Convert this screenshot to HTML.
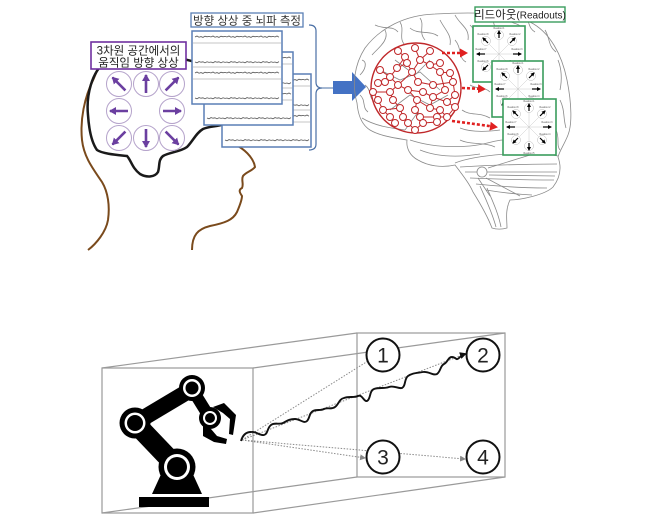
<!DOCTYPE html>
<html>
<head>
<meta charset="utf-8">
<style>
  html,body{margin:0;padding:0;background:#fff;}
  body{width:650px;height:529px;overflow:hidden;}
  svg{display:block;}
  .kr{font-family:"Liberation Sans","Noto Sans CJK KR",sans-serif;}
</style>
</head>
<body>
<svg width="650" height="529" viewBox="0 0 650 529" xmlns="http://www.w3.org/2000/svg">
  <defs>
    <marker id="ap" markerWidth="8" markerHeight="8" refX="6" refY="4" orient="auto" markerUnits="userSpaceOnUse">
      <path d="M0,0 L7,4 L0,8 z" fill="#6b3fa0"/>
    </marker>
    <marker id="ab" markerWidth="4" markerHeight="4" refX="3" refY="2" orient="auto" markerUnits="userSpaceOnUse">
      <path d="M0,0 L4,2 L0,4 z" fill="#000"/>
    </marker>
    <marker id="ar" markerWidth="9" markerHeight="9" refX="6" refY="4.5" orient="auto" markerUnits="userSpaceOnUse">
      <path d="M0,0 L8,4.5 L0,9 z" fill="#e02020"/>
    </marker>
    <marker id="ag" markerWidth="6" markerHeight="6" refX="5" refY="3" orient="auto" markerUnits="userSpaceOnUse">
      <path d="M0,0 L6,3 L0,6 z" fill="#888"/>
    </marker>
    <marker id="ak" markerWidth="7" markerHeight="7" refX="5" refY="3.5" orient="auto" markerUnits="userSpaceOnUse">
      <path d="M0,0 L7,3.5 L0,7 z" fill="#111"/>
    </marker>
  </defs>

  <!-- ================= HEAD ================= -->
  <path d="M 88 250 C 96 244, 106 232, 108 220 C 110 206, 108 192, 102 182 C 94 170, 84 158, 82 140 C 80 120, 84 98, 94 78 L 99 66" fill="none" stroke="#7a4a1c" stroke-width="2"/>
  <path d="M 238 146 C 248 152, 254 160, 255 167 C 252 171, 246 172, 243 176 C 241 180, 244 184, 242 188 C 238 190, 240 193, 242 196 C 242 200, 240 205, 237 212 C 233 220, 225 223, 210 226 C 198 229, 192 235, 192 250" fill="none" stroke="#7a4a1c" stroke-width="2"/>
  <path d="M 205 66 C 185 56, 140 52, 105 62 C 92 72, 86 95, 88 115 C 89 130, 92 143, 97 150 C 103 154, 118 155, 127 156 C 131 160, 132 168, 140 174 C 147 178, 155 177, 158 172 C 160 166, 158 160, 163 156 C 170 152, 180 152, 187 147 C 193 141, 196 133, 203 129 C 210 126, 216 127, 225 124" fill="none" stroke="#1a1a1a" stroke-width="2.5"/>

  <!-- purple direction circles -->
  <g fill="#fff" stroke="#b5a3cb" stroke-width="1">
    <circle cx="119" cy="84" r="12.5"/><circle cx="146" cy="84" r="12.5"/><circle cx="172" cy="84" r="12.5"/>
    <circle cx="119" cy="111" r="12.5"/><circle cx="172" cy="111" r="12.5"/>
    <circle cx="119" cy="138" r="12.5"/><circle cx="146" cy="138" r="12.5"/><circle cx="172" cy="138" r="12.5"/>
  </g>
  <g stroke="#6b3fa0" stroke-width="2.6" marker-end="url(#ap)">
    <line x1="125.4" y1="90.4" x2="112.5" y2="77.5"/>
    <line x1="146" y1="93" x2="146" y2="75"/>
    <line x1="165.6" y1="90.4" x2="178.5" y2="77.5"/>
    <line x1="128" y1="111" x2="110" y2="111"/>
    <line x1="163" y1="111" x2="181" y2="111"/>
    <line x1="125.4" y1="131.6" x2="112.5" y2="144.5"/>
    <line x1="146" y1="129" x2="146" y2="147"/>
    <line x1="165.6" y1="131.6" x2="178.5" y2="144.5"/>
  </g>

  <!-- purple label -->
  <rect x="91" y="42" width="95" height="27" fill="#fff" stroke="#7030a0" stroke-width="1.6"/>
  <text x="138.5" y="54.5" class="kr" font-size="11.5" fill="#222" text-anchor="middle">3차원 공간에서의</text>
  <text x="138.5" y="66.5" class="kr" font-size="11.5" fill="#222" text-anchor="middle">움직임 방향 상상</text>

  <!-- EEG boxes -->
  <g transform="translate(222,74)">
    <rect x="0" y="0" width="89" height="73" fill="#fff" stroke="#5a7fb5" stroke-width="1.5"/>
    <g stroke="#c4c4c4" stroke-width="1"><line x1="1" y1="12" x2="88" y2="12"/><line x1="1" y1="36" x2="88" y2="36"/><line x1="1" y1="48" x2="88" y2="48"/></g>
    <g fill="none" stroke="#555" stroke-width="0.8">
      <path d="M3,6 l2,-1 l2,1.2 l2,-0.6 l2,0.8 l2,-1.2 l2,0.6 l2,-0.4 l2,0.6 l2,-1 l2,1.2 l2,-0.6 l2,0.8 l2,-1.2 l2,0.6 l2,-0.4 l2,0.6 l2,-1 l2,1.2 l2,-0.6 l2,0.8 l2,-1.2 l2,0.6 l2,-0.4 l2,0.6 l2,-1 l2,1.2 l2,-0.6 l2,0.8 l2,-1.2 l2,0.6 l2,-0.4 l2,0.6 l2,-1 l2,1.2 l2,-0.6 l2,0.8 l2,-1.2 l2,0.6 l2,-0.4 l2,0.6 l2,-1 l2,1.2"/>
      <path d="M3,31 l2,0.8 l2,-1.2 l2,0.6 l2,-0.4 l2,1 l2,-1 l2,0.6 l2,-0.4 l2,0.8 l2,-1.2 l2,0.6 l2,-0.4 l2,1 l2,-1 l2,0.6 l2,-0.4 l2,0.8 l2,-1.2 l2,0.6 l2,-0.4 l2,1 l2,-1 l2,0.6 l2,-0.4 l2,0.8 l2,-1.2 l2,0.6 l2,-0.4 l2,1 l2,-1 l2,0.6 l2,-0.4 l2,0.8 l2,-1.2 l2,0.6 l2,-0.4 l2,1 l2,-1 l2,0.6 l2,-0.4 l2,0.8 l2,-1.2"/>
      <path d="M3,42 l2,-1 l2,1.2 l2,-0.6 l2,0.8 l2,-1.2 l2,0.6 l2,-0.4 l2,0.6 l2,-1 l2,1.2 l2,-0.6 l2,0.8 l2,-1.2 l2,0.6 l2,-0.4 l2,0.6 l2,-1 l2,1.2 l2,-0.6 l2,0.8 l2,-1.2 l2,0.6 l2,-0.4 l2,0.6 l2,-1 l2,1.2 l2,-0.6 l2,0.8 l2,-1.2 l2,0.6 l2,-0.4 l2,0.6 l2,-1 l2,1.2 l2,-0.6 l2,0.8 l2,-1.2 l2,0.6 l2,-0.4 l2,0.6 l2,-1 l2,1.2"/>
      <path d="M3,66 l2,0.8 l2,-1.2 l2,0.6 l2,-0.4 l2,1 l2,-1 l2,0.6 l2,-0.4 l2,0.8 l2,-1.2 l2,0.6 l2,-0.4 l2,1 l2,-1 l2,0.6 l2,-0.4 l2,0.8 l2,-1.2 l2,0.6 l2,-0.4 l2,1 l2,-1 l2,0.6 l2,-0.4 l2,0.8 l2,-1.2 l2,0.6 l2,-0.4 l2,1 l2,-1 l2,0.6 l2,-0.4 l2,0.8 l2,-1.2 l2,0.6 l2,-0.4 l2,1 l2,-1 l2,0.6 l2,-0.4 l2,0.8 l2,-1.2"/>
    </g>
  </g>
  <g transform="translate(204,52)">
    <rect x="0" y="0" width="89" height="73" fill="#fff" stroke="#5a7fb5" stroke-width="1.5"/>
    <g stroke="#c4c4c4" stroke-width="1"><line x1="1" y1="12" x2="88" y2="12"/><line x1="1" y1="36" x2="88" y2="36"/><line x1="1" y1="48" x2="88" y2="48"/></g>
    <g fill="none" stroke="#555" stroke-width="0.8">
      <path d="M3,6 l2,-1 l2,1.2 l2,-0.6 l2,0.8 l2,-1.2 l2,0.6 l2,-0.4 l2,0.6 l2,-1 l2,1.2 l2,-0.6 l2,0.8 l2,-1.2 l2,0.6 l2,-0.4 l2,0.6 l2,-1 l2,1.2 l2,-0.6 l2,0.8 l2,-1.2 l2,0.6 l2,-0.4 l2,0.6 l2,-1 l2,1.2 l2,-0.6 l2,0.8 l2,-1.2 l2,0.6 l2,-0.4 l2,0.6 l2,-1 l2,1.2 l2,-0.6 l2,0.8 l2,-1.2 l2,0.6 l2,-0.4 l2,0.6 l2,-1 l2,1.2"/>
      <path d="M3,31 l2,0.8 l2,-1.2 l2,0.6 l2,-0.4 l2,1 l2,-1 l2,0.6 l2,-0.4 l2,0.8 l2,-1.2 l2,0.6 l2,-0.4 l2,1 l2,-1 l2,0.6 l2,-0.4 l2,0.8 l2,-1.2 l2,0.6 l2,-0.4 l2,1 l2,-1 l2,0.6 l2,-0.4 l2,0.8 l2,-1.2 l2,0.6 l2,-0.4 l2,1 l2,-1 l2,0.6 l2,-0.4 l2,0.8 l2,-1.2 l2,0.6 l2,-0.4 l2,1 l2,-1 l2,0.6 l2,-0.4 l2,0.8 l2,-1.2"/>
      <path d="M3,42 l2,-1 l2,1.2 l2,-0.6 l2,0.8 l2,-1.2 l2,0.6 l2,-0.4 l2,0.6 l2,-1 l2,1.2 l2,-0.6 l2,0.8 l2,-1.2 l2,0.6 l2,-0.4 l2,0.6 l2,-1 l2,1.2 l2,-0.6 l2,0.8 l2,-1.2 l2,0.6 l2,-0.4 l2,0.6 l2,-1 l2,1.2 l2,-0.6 l2,0.8 l2,-1.2 l2,0.6 l2,-0.4 l2,0.6 l2,-1 l2,1.2 l2,-0.6 l2,0.8 l2,-1.2 l2,0.6 l2,-0.4 l2,0.6 l2,-1 l2,1.2"/>
      <path d="M3,66 l2,0.8 l2,-1.2 l2,0.6 l2,-0.4 l2,1 l2,-1 l2,0.6 l2,-0.4 l2,0.8 l2,-1.2 l2,0.6 l2,-0.4 l2,1 l2,-1 l2,0.6 l2,-0.4 l2,0.8 l2,-1.2 l2,0.6 l2,-0.4 l2,1 l2,-1 l2,0.6 l2,-0.4 l2,0.8 l2,-1.2 l2,0.6 l2,-0.4 l2,1 l2,-1 l2,0.6 l2,-0.4 l2,0.8 l2,-1.2 l2,0.6 l2,-0.4 l2,1 l2,-1 l2,0.6 l2,-0.4 l2,0.8 l2,-1.2"/>
    </g>
  </g>
  <g transform="translate(192,31)">
    <rect x="0" y="0" width="90" height="73" fill="#fff" stroke="#5a7fb5" stroke-width="1.5"/>
    <g stroke="#c4c4c4" stroke-width="1"><line x1="1" y1="12" x2="89" y2="12"/><line x1="1" y1="36" x2="89" y2="36"/><line x1="1" y1="48" x2="89" y2="48"/></g>
    <g fill="none" stroke="#555" stroke-width="0.8">
      <path d="M3,6 l2,-1 l2,1.2 l2,-0.6 l2,0.8 l2,-1.2 l2,0.6 l2,-0.4 l2,0.6 l2,-1 l2,1.2 l2,-0.6 l2,0.8 l2,-1.2 l2,0.6 l2,-0.4 l2,0.6 l2,-1 l2,1.2 l2,-0.6 l2,0.8 l2,-1.2 l2,0.6 l2,-0.4 l2,0.6 l2,-1 l2,1.2 l2,-0.6 l2,0.8 l2,-1.2 l2,0.6 l2,-0.4 l2,0.6 l2,-1 l2,1.2 l2,-0.6 l2,0.8 l2,-1.2 l2,0.6 l2,-0.4 l2,0.6 l2,-1 l2,1.2"/>
      <path d="M3,31 l2,0.8 l2,-1.2 l2,0.6 l2,-0.4 l2,1 l2,-1 l2,0.6 l2,-0.4 l2,0.8 l2,-1.2 l2,0.6 l2,-0.4 l2,1 l2,-1 l2,0.6 l2,-0.4 l2,0.8 l2,-1.2 l2,0.6 l2,-0.4 l2,1 l2,-1 l2,0.6 l2,-0.4 l2,0.8 l2,-1.2 l2,0.6 l2,-0.4 l2,1 l2,-1 l2,0.6 l2,-0.4 l2,0.8 l2,-1.2 l2,0.6 l2,-0.4 l2,1 l2,-1 l2,0.6 l2,-0.4 l2,0.8 l2,-1.2"/>
      <path d="M3,42 l2,-1 l2,1.2 l2,-0.6 l2,0.8 l2,-1.2 l2,0.6 l2,-0.4 l2,0.6 l2,-1 l2,1.2 l2,-0.6 l2,0.8 l2,-1.2 l2,0.6 l2,-0.4 l2,0.6 l2,-1 l2,1.2 l2,-0.6 l2,0.8 l2,-1.2 l2,0.6 l2,-0.4 l2,0.6 l2,-1 l2,1.2 l2,-0.6 l2,0.8 l2,-1.2 l2,0.6 l2,-0.4 l2,0.6 l2,-1 l2,1.2 l2,-0.6 l2,0.8 l2,-1.2 l2,0.6 l2,-0.4 l2,0.6 l2,-1 l2,1.2"/>
      <path d="M3,67 l2,0.8 l2,-1.2 l2,0.6 l2,-0.4 l2,1 l2,-1 l2,0.6 l2,-0.4 l2,0.8 l2,-1.2 l2,0.6 l2,-0.4 l2,1 l2,-1 l2,0.6 l2,-0.4 l2,0.8 l2,-1.2 l2,0.6 l2,-0.4 l2,1 l2,-1 l2,0.6 l2,-0.4 l2,0.8 l2,-1.2 l2,0.6 l2,-0.4 l2,1 l2,-1 l2,0.6 l2,-0.4 l2,0.8 l2,-1.2 l2,0.6 l2,-0.4 l2,1 l2,-1 l2,0.6 l2,-0.4 l2,0.8 l2,-1.2"/>
    </g>
  </g>

  <!-- EEG label -->
  <rect x="191" y="13" width="112" height="14" fill="#fff" stroke="#5a7fb5" stroke-width="1.3"/>
  <text x="247" y="24.5" class="kr" font-size="11.5" fill="#333" text-anchor="middle">방향 상상 중 뇌파 측정</text>

  <!-- bracket -->
  <path d="M 309 25 Q 316 25 316 31 L 316 82 Q 316 88 322 88 Q 316 88 316 94 L 316 144 Q 316 150 309 150" fill="none" stroke="#4a6fa5" stroke-width="1.2"/>
  <line x1="322" y1="88" x2="334" y2="88" stroke="#4a6fa5" stroke-width="1"/>

  <!-- big blue arrow -->
  <path d="M 333 81 L 352 81 L 352 72 L 366 87 L 352 101 L 352 94 L 333 94 Z" fill="#4472c4"/>

  <!-- ================= BRAIN ================= -->
  <g fill="none" stroke="#8a8a8a" stroke-width="0.8">
    <path d="M 357 103 C 352 85, 354 65, 365 48 C 380 28, 405 15, 435 14 C 470 12, 510 12, 530 22 C 550 32, 562 55, 567 80 C 572 105, 572 125, 568 135 C 564 145, 560 150, 558 157 C 562 168, 560 178, 553 187 C 545 195, 520 200, 510 200 C 505 210, 507 220, 507 228 C 500 230, 495 229, 492 228 C 487 215, 478 200, 473 192 C 470 185, 465 178, 455 165 C 442 168, 428 166, 418 160 C 410 156, 406 148, 407 140 C 395 138, 380 136, 370 130 C 362 125, 358 115, 357 103 Z"/>
    <path d="M 455 163 C 475 155, 530 150, 558 156"/>
    <path d="M 460 167 Q 510 164 557 164"/>
    <path d="M 465 172 Q 515 172 557 172"/>
    <path d="M 470 178 Q 515 180 554 180"/>
    <path d="M 476 184 Q 515 188 547 188"/>
    <path d="M 486 190 Q 510 194 532 195"/>
    <path d="M 488 168 L 530 155"/>
    <path d="M 489 175 L 555 176"/>
    <path d="M 486 178 L 520 196"/>
    <path d="M 478 178 L 490 196"/>
    <circle cx="482" cy="172" r="5" fill="#fff"/>
    <path d="M 480 186 C 486 200, 492 212, 496 227"/>
    <path d="M 487 188 C 492 200, 498 212, 501 227"/>
    <path d="M 440 20 C 445 30, 452 35, 450 45"/>
    <path d="M 455 15 C 460 25, 470 28, 468 40"/>
    <path d="M 400 22 C 405 30, 398 38, 405 45"/>
    <path d="M 385 30 C 390 40, 378 48, 372 55"/>
    <path d="M 362 60 C 368 62, 365 70, 360 75"/>
    <path d="M 455 40 C 462 48, 458 58, 466 62"/>
    <path d="M 420 18 C 425 25, 418 32, 425 40"/>
    <path d="M 365 85 C 372 90, 368 98, 375 102"/>
    <path d="M 362 118 C 375 126, 390 128, 405 130"/>
    <path d="M 410 140 C 425 145, 445 148, 470 146 C 485 145, 495 140, 503 140"/>
    <path d="M 420 150 C 435 156, 455 158, 480 154"/>
    <path d="M 460 128 C 470 132, 485 132, 500 130"/>
    <path d="M 462 110 C 470 116, 480 112, 490 118"/>
    <path d="M 470 85 C 478 90, 484 86, 490 92"/>
    <path d="M 525 15 C 530 22, 528 28, 535 32"/>
    <path d="M 490 14 C 495 20, 492 26, 498 30"/>
    <path d="M 545 30 C 550 38, 548 46, 556 52"/>
    <path d="M 558 60 C 562 70, 562 80, 560 90"/>
    <path d="M 560 100 C 565 110, 563 118, 566 128"/>
    <path d="M 556 130 C 560 138, 556 145, 560 150"/>
    <path d="M 375 25 C 385 30, 392 25, 398 32"/>
    <path d="M 410 28 C 418 35, 430 30, 438 36"/>
    <path d="M 360 95 C 366 100, 362 108, 368 112"/>
    <path d="M 470 25 C 478 32, 475 40, 482 45"/>
    <path d="M 505 18 C 510 24, 518 22, 522 28"/>
    <path d="M 460 140 C 470 145, 485 142, 495 147"/>
    <path d="M 380 70 L 400 80 L 420 72 L 440 90"/>
    <path d="M 390 110 L 410 95 L 430 105 L 448 95"/>
    <path d="M 395 60 L 415 75 L 430 60"/>
    <path d="M 405 130 L 418 112 L 425 125"/>
  </g>

  <!-- red network -->
  <circle cx="416" cy="88" r="45" fill="none" stroke="#c0282a" stroke-width="1.4"/>
  <g stroke="#c0282a" stroke-width="1" fill="none">
    <path d="M398 51 L405 57 L407 63 L397 68 L390 77 L385 82 L378 83"/>
    <path d="M415 48 L420 60 L430 65 L440 63"/>
    <path d="M430 51 L420 60 L412 72 L418 82 L433 85 L453 82"/>
    <path d="M380 70 L390 77 L398 85 L408 90 L423 92 L433 97 L447 102 L455 107"/>
    <path d="M440 72 L450 73 L453 82 L455 95 L447 102"/>
    <path d="M430 65 L440 72 L445 90 L433 97"/>
    <path d="M373 92 L378 100 L383 110 L390 117 L395 123"/>
    <path d="M390 92 L393 100 L400 108 L403 117 L408 123 L415 130 L423 123 L420 117"/>
    <path d="M398 85 L390 92 L373 92"/>
    <path d="M408 90 L417 100 L415 110 L420 117 L437 117 L447 117 L440 110 L430 108 L433 97"/>
    <path d="M417 100 L430 108"/>
    <path d="M437 117 L437 122 L423 123"/>
    <path d="M407 63 L412 72 L398 85"/>
    <path d="M447 117 L455 107"/>
    <path d="M383 110 L400 108"/>
    <path d="M397 68 L405 57"/>
  </g>
  <g fill="#fff" stroke="#c0282a" stroke-width="1">
    <circle cx="398" cy="51" r="3.5"/><circle cx="415" cy="48" r="3.5"/><circle cx="430" cy="51" r="3.5"/>
    <circle cx="405" cy="57" r="3.5"/><circle cx="407" cy="63" r="3.5"/><circle cx="397" cy="68" r="3.5"/>
    <circle cx="420" cy="60" r="3.5"/><circle cx="430" cy="65" r="3.5"/><circle cx="440" cy="63" r="3.5"/>
    <circle cx="380" cy="70" r="3.5"/><circle cx="390" cy="77" r="3.5"/><circle cx="412" cy="72" r="3.5"/>
    <circle cx="440" cy="72" r="3.5"/><circle cx="450" cy="73" r="3.5"/><circle cx="378" cy="83" r="3.5"/>
    <circle cx="385" cy="82" r="3.5"/><circle cx="398" cy="85" r="3.5"/><circle cx="418" cy="82" r="3.5"/>
    <circle cx="433" cy="85" r="3.5"/><circle cx="453" cy="82" r="3.5"/><circle cx="373" cy="92" r="3.5"/>
    <circle cx="390" cy="92" r="3.5"/><circle cx="408" cy="90" r="3.5"/><circle cx="423" cy="92" r="3.5"/>
    <circle cx="445" cy="90" r="3.5"/><circle cx="455" cy="95" r="3.5"/><circle cx="378" cy="100" r="3.5"/>
    <circle cx="393" cy="100" r="3.5"/><circle cx="417" cy="100" r="3.5"/><circle cx="433" cy="97" r="3.5"/>
    <circle cx="447" cy="102" r="3.5"/><circle cx="383" cy="110" r="3.5"/><circle cx="400" cy="108" r="3.5"/>
    <circle cx="415" cy="110" r="3.5"/><circle cx="430" cy="108" r="3.5"/><circle cx="440" cy="110" r="3.5"/>
    <circle cx="455" cy="107" r="3.5"/><circle cx="390" cy="117" r="3.5"/><circle cx="403" cy="117" r="3.5"/>
    <circle cx="420" cy="117" r="3.5"/><circle cx="437" cy="117" r="3.5"/><circle cx="447" cy="117" r="3.5"/>
    <circle cx="395" cy="123" r="3.5"/><circle cx="408" cy="123" r="3.5"/><circle cx="423" cy="123" r="3.5"/>
    <circle cx="437" cy="122" r="3.5"/><circle cx="415" cy="130" r="3.5"/>
  </g>

  <!-- red dotted arrows -->
  <g stroke="#e02020" stroke-width="2.6" stroke-dasharray="3 2" fill="none" marker-end="url(#ar)">
    <line x1="442" y1="53" x2="466" y2="53"/>
    <line x1="462" y1="88" x2="484" y2="89"/>
    <path d="M 452 121 Q 475 124 496 127"/>
  </g>

  <!-- readout boxes -->
  <g transform="translate(473,26)">
    <rect x="0" y="0" width="52" height="56" fill="#fff" stroke="#3a9d5d" stroke-width="1.6"/>
    <g stroke="#c8c8c8" stroke-width="0.5"><line x1="8" y1="28" x2="44" y2="28"/><line x1="26" y1="10" x2="26" y2="46"/><line x1="13" y1="15" x2="39" y2="41"/><line x1="39" y1="15" x2="13" y2="41"/></g>
    <g fill="#fff" stroke="#bbb" stroke-width="0.5"><circle cx="26" cy="9" r="4.5"/><circle cx="39" cy="15" r="4.5"/><circle cx="39" cy="41" r="4.5"/><circle cx="26" cy="47" r="4.5"/><circle cx="13" cy="41" r="4.5"/><circle cx="13" cy="15" r="4.5"/></g>
    <g stroke="#000" stroke-width="1.2" marker-end="url(#ab)">
      <line x1="26" y1="12" x2="26" y2="5"/><line x1="37" y1="17" x2="42" y2="12"/><line x1="40" y1="28" x2="48" y2="28"/><line x1="37" y1="39" x2="42" y2="44"/>
      <line x1="26" y1="44" x2="26" y2="51"/><line x1="15" y1="39" x2="10" y2="44"/><line x1="12" y1="28" x2="4" y2="28"/><line x1="15" y1="17" x2="10" y2="12"/>
    </g>
    <g font-family="Liberation Sans, sans-serif" font-size="2.4" fill="#555" text-anchor="middle">
      <text x="26" y="3">Readout 1</text><text x="42" y="9">Readout 2</text><text x="44" y="24">Readout 3</text><text x="42" y="36">Readout 4</text>
      <text x="26" y="55">Readout 5</text><text x="10" y="36">Readout 6</text><text x="8" y="24">Readout 7</text><text x="10" y="9">Readout 8</text>
    </g>
  </g>
  <g transform="translate(492,61)">
    <rect x="0" y="0" width="51" height="56" fill="#fff" stroke="#3a9d5d" stroke-width="1.6"/>
    <g stroke="#c8c8c8" stroke-width="0.5"><line x1="8" y1="28" x2="44" y2="28"/><line x1="26" y1="10" x2="26" y2="46"/><line x1="13" y1="15" x2="39" y2="41"/><line x1="39" y1="15" x2="13" y2="41"/></g>
    <g fill="#fff" stroke="#bbb" stroke-width="0.5"><circle cx="26" cy="9" r="4.5"/><circle cx="39" cy="15" r="4.5"/><circle cx="39" cy="41" r="4.5"/><circle cx="26" cy="47" r="4.5"/><circle cx="13" cy="41" r="4.5"/><circle cx="13" cy="15" r="4.5"/></g>
    <g stroke="#000" stroke-width="1.2" marker-end="url(#ab)">
      <line x1="26" y1="12" x2="26" y2="5"/><line x1="37" y1="17" x2="42" y2="12"/><line x1="40" y1="28" x2="48" y2="28"/><line x1="37" y1="39" x2="42" y2="44"/>
      <line x1="26" y1="44" x2="26" y2="51"/><line x1="15" y1="39" x2="10" y2="44"/><line x1="12" y1="28" x2="4" y2="28"/><line x1="15" y1="17" x2="10" y2="12"/>
    </g>
    <g font-family="Liberation Sans, sans-serif" font-size="2.4" fill="#555" text-anchor="middle">
      <text x="26" y="3">Readout 1</text><text x="42" y="9">Readout 2</text><text x="44" y="24">Readout 3</text><text x="42" y="36">Readout 4</text>
      <text x="26" y="55">Readout 5</text><text x="10" y="36">Readout 6</text><text x="8" y="24">Readout 7</text><text x="10" y="9">Readout 8</text>
    </g>
  </g>
  <g transform="translate(503,99)">
    <rect x="0" y="0" width="53" height="56" fill="#fff" stroke="#3a9d5d" stroke-width="1.6"/>
    <g stroke="#c8c8c8" stroke-width="0.5"><line x1="8" y1="28" x2="44" y2="28"/><line x1="26" y1="10" x2="26" y2="46"/><line x1="13" y1="15" x2="39" y2="41"/><line x1="39" y1="15" x2="13" y2="41"/></g>
    <g fill="#fff" stroke="#bbb" stroke-width="0.5"><circle cx="26" cy="9" r="4.5"/><circle cx="39" cy="15" r="4.5"/><circle cx="39" cy="41" r="4.5"/><circle cx="26" cy="47" r="4.5"/><circle cx="13" cy="41" r="4.5"/><circle cx="13" cy="15" r="4.5"/></g>
    <g stroke="#000" stroke-width="1.2" marker-end="url(#ab)">
      <line x1="26" y1="12" x2="26" y2="5"/><line x1="37" y1="17" x2="42" y2="12"/><line x1="40" y1="28" x2="48" y2="28"/><line x1="37" y1="39" x2="42" y2="44"/>
      <line x1="26" y1="44" x2="26" y2="51"/><line x1="15" y1="39" x2="10" y2="44"/><line x1="12" y1="28" x2="4" y2="28"/><line x1="15" y1="17" x2="10" y2="12"/>
    </g>
    <g font-family="Liberation Sans, sans-serif" font-size="2.4" fill="#555" text-anchor="middle">
      <text x="26" y="3">Readout 1</text><text x="42" y="9">Readout 2</text><text x="44" y="24">Readout 3</text><text x="42" y="36">Readout 4</text>
      <text x="26" y="55">Readout 5</text><text x="10" y="36">Readout 6</text><text x="8" y="24">Readout 7</text><text x="10" y="9">Readout 8</text>
    </g>
  </g>

  <!-- readouts label -->
  <rect x="475" y="7" width="90" height="15" fill="#fff" stroke="#3a9d5d" stroke-width="1.4"/>
  <text x="520" y="18.5" class="kr" font-size="10" fill="#222" text-anchor="middle"><tspan font-size="11.5">리드아웃</tspan>(Readouts)</text>

  <!-- ================= BOTTOM: ROBOT + CUBE ================= -->
  <g fill="none" stroke="#9a9a9a" stroke-width="1.2">
    <rect x="357" y="333" width="148" height="144"/>
    <line x1="102" y1="368" x2="357" y2="333"/>
    <line x1="253" y1="368" x2="505" y2="333"/>
    <line x1="102" y1="513" x2="357" y2="477"/>
    <line x1="253" y1="513" x2="505" y2="477"/>
    <rect x="102" y="368" width="151" height="145"/>
  </g>

  <g stroke="#8a8a8a" stroke-width="1" stroke-dasharray="1.5 1.5" fill="none">
    <line x1="242" y1="440" x2="368" y2="361"/>
    <line x1="242" y1="440" x2="465" y2="354" marker-end="url(#ag)"/>
    <line x1="242" y1="440" x2="365" y2="458" marker-end="url(#ag)"/>
    <line x1="242" y1="440" x2="465" y2="459" marker-end="url(#ag)"/>
  </g>

  <path d="M 241 441 C 243 434, 247 432, 251 432 C 256 431, 260 436, 264 435 C 268 434, 267 428, 271 425 C 275 422, 279 425, 283 423 C 287 421, 289 419, 295 419 C 300 419, 304 424, 307 421 C 310 418, 309 413, 313 411 C 317 409, 320 411, 324 409 C 328 407, 331 410, 335 407 C 339 404, 339 399, 344 398 C 349 396, 354 398, 358 396 C 362 394, 364 402, 367 401 C 371 399, 369 391, 374 389 C 379 387, 384 389, 389 387 C 394 385, 398 389, 402 388 C 406 386, 404 379, 408 376 C 412 373, 417 373, 423 372 C 429 371, 433 376, 437 374 C 441 371, 440 366, 444 364 C 448 362, 448 357, 452 357 C 456 357, 456 361, 459 358 C 461 356, 462 355, 465 354" fill="none" stroke="#111" stroke-width="1.9" marker-end="url(#ak)"/>

  <g fill="#fff" stroke="#111" stroke-width="2">
    <circle cx="383" cy="355" r="16.5"/><circle cx="483" cy="355" r="16.5"/>
    <circle cx="383" cy="457" r="16.5"/><circle cx="483" cy="457" r="16.5"/>
  </g>
  <g font-family="Liberation Sans, sans-serif" font-size="21" fill="#222" text-anchor="middle">
    <text x="383" y="362.5">1</text><text x="483" y="362.5">2</text>
    <text x="383" y="464.5">3</text><text x="483" y="464.5">4</text>
  </g>

  <g>
    <rect x="139" y="497" width="70" height="10" fill="#000"/>
    <polygon points="152,494 202,494 191,470 163,470" fill="#000"/>
    <line x1="135" y1="423" x2="177" y2="467" stroke="#000" stroke-width="20"/>
    <line x1="135" y1="423" x2="192" y2="389" stroke="#000" stroke-width="16"/>
    <line x1="192" y1="389" x2="210" y2="418" stroke="#000" stroke-width="12"/>
    <circle cx="177" cy="467" r="18.5" fill="#000"/>
    <circle cx="177" cy="467" r="13" fill="#fff"/>
    <circle cx="177" cy="467" r="10" fill="#000"/>
    <circle cx="135" cy="423" r="15.5" fill="#000"/>
    <circle cx="135" cy="423" r="10.5" fill="#fff"/>
    <circle cx="135" cy="423" r="8" fill="#000"/>
    <circle cx="192" cy="388" r="13" fill="#000"/>
    <circle cx="192" cy="388" r="9" fill="#fff"/>
    <circle cx="192" cy="388" r="6.5" fill="#000"/>
    <polygon points="213,407 224,403 236,415 233,435 229,434 230,419 223,413" fill="#000"/>
    <polygon points="203,426 211,429 217,436 227,439 226,444 214,442 203,436" fill="#000"/>
    <circle cx="210" cy="418" r="11" fill="#000"/>
    <circle cx="210" cy="418" r="7" fill="#fff"/>
    <circle cx="210" cy="418" r="5" fill="#000"/>
  </g>
</svg>
</body>
</html>
